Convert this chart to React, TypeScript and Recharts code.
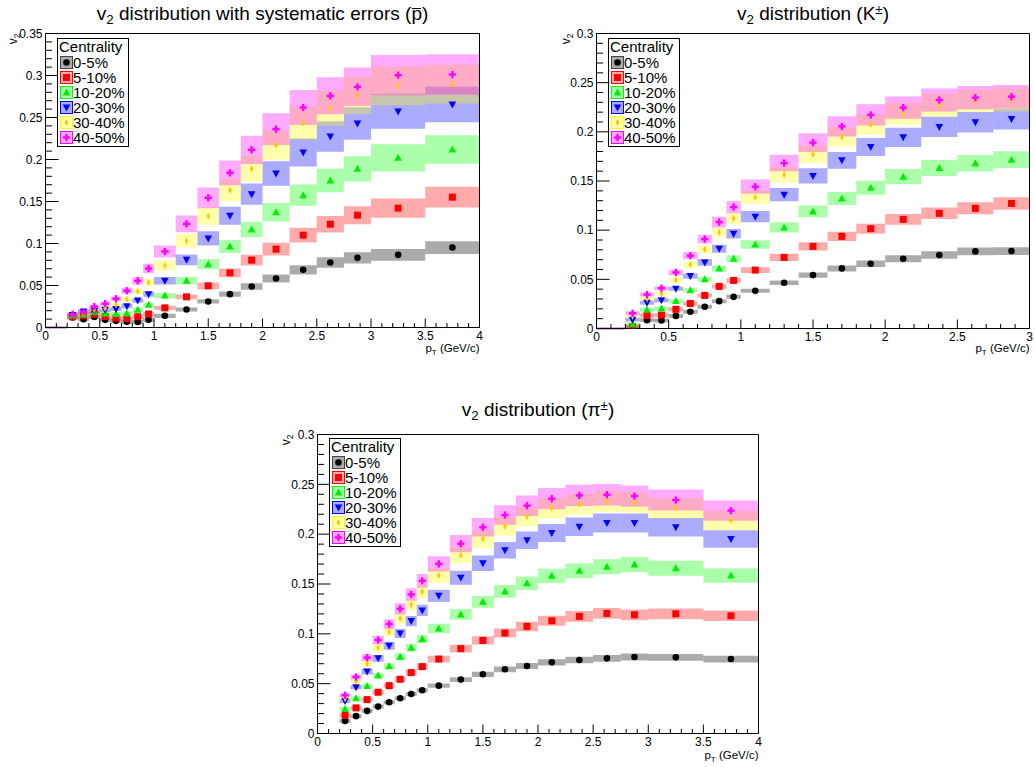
import React from 'react';
import { ComposedChart, Scatter, XAxis, YAxis, ReferenceArea, ReferenceLine, Legend } from 'recharts';

const FONT = '"Liberation Sans", Arial, Helvetica, sans-serif';

// pT bins (GeV/c)
const binLow = [0.2, 0.3, 0.4, 0.5, 0.6, 0.7, 0.8, 0.9, 1.0, 1.2, 1.4, 1.6, 1.8, 2.0, 2.25, 2.5, 2.75, 3.0, 3.5];
const binHigh = [0.3, 0.4, 0.5, 0.6, 0.7, 0.8, 0.9, 1.0, 1.2, 1.4, 1.6, 1.8, 2.0, 2.25, 2.5, 2.75, 3.0, 3.5, 4.0];
const binCenter = [0.25, 0.35, 0.45, 0.55, 0.65, 0.75, 0.85, 0.95, 1.1, 1.3, 1.5, 1.7, 1.9, 2.125, 2.375, 2.625, 2.875, 3.25, 3.75];

const centralities = ['0-5%', '5-10%', '10-20%', '20-30%', '30-40%', '40-50%'];
const markerColors = ['#000000', '#ff0000', '#00ee00', '#0000ff', '#ffc800', '#ff00ff'];
const boxColors = ['#000000', '#ff0000', '#00ff00', '#0000ff', '#ffff00', '#ff00ff'];
const markerKinds = ['circle', 'square', 'triUp', 'triDown', 'diamond', 'cross'];

// anti-proton v2
const pbar0_5 = [0.012, 0.0099, 0.0125, 0.0091, 0.0079, 0.0068, 0.0066, 0.0093, 0.0139, 0.0214, 0.031, 0.0397, 0.0488, 0.0583, 0.0687, 0.0774, 0.0829, 0.0865, 0.0952];
const pbar5_10 = [0.0127, 0.0139, 0.016, 0.0131, 0.0111, 0.0107, 0.0128, 0.016, 0.0234, 0.0365, 0.0496, 0.0651, 0.0802, 0.0933, 0.1099, 0.123, 0.1337, 0.1421, 0.1552];
const pbar10_20 = [0.0142, 0.0155, 0.0185, 0.0166, 0.016, 0.0168, 0.021, 0.027, 0.038, 0.0556, 0.0754, 0.0964, 0.1167, 0.1373, 0.1575, 0.175, 0.1889, 0.202, 0.2119];
const pbar20_30 = [0.015, 0.019, 0.02, 0.021, 0.022, 0.0254, 0.0321, 0.0397, 0.0556, 0.0806, 0.106, 0.133, 0.1587, 0.1833, 0.2083, 0.2274, 0.2429, 0.2571, 0.2655];
const pbar30_40 = [0.015, 0.017, 0.021, 0.023, 0.027, 0.0337, 0.0429, 0.0536, 0.0738, 0.1032, 0.1325, 0.1635, 0.1889, 0.2171, 0.2433, 0.2611, 0.2762, 0.2877, 0.2897];
const pbar40_50 = [0.0158, 0.0185, 0.0248, 0.0284, 0.0343, 0.0437, 0.0556, 0.0702, 0.0905, 0.1234, 0.1544, 0.1841, 0.2115, 0.2361, 0.2619, 0.2758, 0.2865, 0.3004, 0.3012];

// kaon v2
const k0_5 = [0.001, 0.0085, 0.0082, 0.0128, 0.017, 0.0221, 0.0278, 0.0322, 0.0383, 0.0465, 0.0543, 0.0611, 0.0658, 0.0709, 0.0747, 0.0784, 0.0787];
const k5_10 = [0.0017, 0.0132, 0.0136, 0.0195, 0.0254, 0.0336, 0.0428, 0.0489, 0.0594, 0.0723, 0.0835, 0.0937, 0.1015, 0.111, 0.1171, 0.1222, 0.1272];
const k10_20 = [0.0042, 0.0191, 0.0204, 0.028, 0.039, 0.0502, 0.0611, 0.0709, 0.0855, 0.1028, 0.1191, 0.1323, 0.1432, 0.1544, 0.1632, 0.168, 0.1717];
const k20_30 = [0.009, 0.0261, 0.0288, 0.0404, 0.0533, 0.0672, 0.0811, 0.0964, 0.1137, 0.1361, 0.1551, 0.171, 0.1846, 0.1944, 0.205, 0.2097, 0.2131];
const k30_40 = [0.0124, 0.0302, 0.0354, 0.0494, 0.0652, 0.0804, 0.0977, 0.112, 0.1334, 0.1564, 0.1771, 0.1948, 0.2073, 0.2185, 0.227, 0.2314, 0.2324];
const k40_50 = [0.0155, 0.0345, 0.041, 0.057, 0.074, 0.0909, 0.1082, 0.1235, 0.1442, 0.1683, 0.189, 0.2056, 0.2172, 0.2246, 0.2324, 0.2348, 0.2358];

// pion v2
const pi0_5 = [0.0125, 0.0174, 0.0227, 0.027, 0.0314, 0.0354, 0.0397, 0.0434, 0.048, 0.0541, 0.0594, 0.0644, 0.0677, 0.0714, 0.0737, 0.0754, 0.0767, 0.0764, 0.0747];
const pi5_10 = [0.0182, 0.0257, 0.034, 0.0414, 0.048, 0.0544, 0.0611, 0.0671, 0.0747, 0.0851, 0.0934, 0.1008, 0.1074, 0.1131, 0.1175, 0.1205, 0.1191, 0.1201, 0.1181];
const pi10_20 = [0.0245, 0.0354, 0.0477, 0.0581, 0.0674, 0.0771, 0.0861, 0.0948, 0.1054, 0.1195, 0.1321, 0.1425, 0.1508, 0.1582, 0.1632, 0.1672, 0.1695, 0.1658, 0.1585];
const pi20_30 = [0.0325, 0.0464, 0.0621, 0.0754, 0.0881, 0.1004, 0.1128, 0.1235, 0.1381, 0.1562, 0.1708, 0.1839, 0.1939, 0.2012, 0.2075, 0.2112, 0.2112, 0.2069, 0.1952];
const pi30_40 = [0.035, 0.0524, 0.0701, 0.0861, 0.1018, 0.1155, 0.1291, 0.1421, 0.1585, 0.1788, 0.1952, 0.2079, 0.2176, 0.2262, 0.2299, 0.2329, 0.2319, 0.2262, 0.2139];
const pi40_50 = [0.0384, 0.0567, 0.0761, 0.0938, 0.1098, 0.1251, 0.1395, 0.1532, 0.1702, 0.1905, 0.2069, 0.2192, 0.2286, 0.2356, 0.2389, 0.2396, 0.2382, 0.2342, 0.2236];

const makeTicks = (max: number, step: number) =>
  Array.from({ length: Math.round(max / step) + 1 }, (_, i) => +(i * step).toFixed(2));

const isMultiple = (v: number, step: number) => Math.abs(v / step - Math.round(v / step)) < 1e-6;
const fmt = (v: number) => String(+v.toFixed(2));

function Marker({ kind, cx, cy, color }: { kind: string; cx: number; cy: number; color: string }) {
  switch (kind) {
    case 'circle':
      return <circle cx={cx} cy={cy} r={3.3} fill={color} />;
    case 'square':
      return <rect x={cx - 3.5} y={cy - 3.5} width={7} height={7} fill={color} />;
    case 'triUp':
      return <polygon points={`${cx},${cy - 4} ${cx - 3.8},${cy + 3} ${cx + 3.8},${cy + 3}`} fill={color} />;
    case 'triDown':
      return <polygon points={`${cx},${cy + 4} ${cx - 3.8},${cy - 3} ${cx + 3.8},${cy - 3}`} fill={color} />;
    case 'diamond':
      return <polygon points={`${cx},${cy - 3.6} ${cx + 1.8},${cy} ${cx},${cy + 3.6} ${cx - 1.8},${cy}`} fill={color} />;
    default:
      return (
        <g fill={color}>
          <rect x={cx - 3.6} y={cy - 1.2} width={7.2} height={2.4} />
          <rect x={cx - 1.2} y={cy - 3.6} width={2.4} height={7.2} />
        </g>
      );
  }
}

const renderXTick = (props: any) => {
  const { x, y, payload } = props;
  const major = isMultiple(payload.value, 0.5);
  return (
    <g>
      <line x1={x} y1={y} x2={x} y2={y - (major ? 9 : 4.5)} stroke="#000" />
      {major && (
        <text x={x} y={y + 12.5} textAnchor="middle" fontSize={12} fontFamily={FONT} fill="#000">
          {fmt(payload.value)}
        </text>
      )}
    </g>
  );
};

const renderYTick = (props: any) => {
  const { x, y, payload } = props;
  const major = isMultiple(payload.value, 0.05);
  return (
    <g>
      <line x1={x} y1={y} x2={x + (major ? 13 : 6.5)} y2={y} stroke="#000" />
      {major && (
        <text x={x - 3} y={y + 4.3} textAnchor="end" fontSize={12} fontFamily={FONT} fill="#000">
          {fmt(payload.value)}
        </text>
      )}
    </g>
  );
};

const CentralityLegend = () => (
  <div
    style={{
      width: 69,
      border: '1px solid #000',
      background: '#fff',
      fontFamily: FONT,
      fontSize: 15,
      color: '#000',
      padding: '0 0 1px 1px',
      whiteSpace: 'nowrap',
    }}
  >
    <div style={{ height: 16, lineHeight: '16px' }}>Centrality</div>
    {centralities.map((c, i) => (
      <div key={c} style={{ display: 'flex', alignItems: 'center', height: 15, lineHeight: '15px' }}>
        <svg width={13} height={13} style={{ marginRight: 0, marginLeft: 1, flex: 'none' }}>
          <rect x={0.5} y={0.5} width={12} height={12} fill="#fff" stroke="none" />
          <rect x={0.5} y={0.5} width={12} height={12} fill={boxColors[i]} fillOpacity={0.33} stroke={i === 0 ? '#444' : boxColors[i]} />
          <Marker kind={markerKinds[i]} cx={6.5} cy={6.5} color={markerColors[i]} />
        </svg>
        <span>{c}</span>
      </div>
    ))}
  </div>
);

type PanelProps = {
  left: number;
  top: number;
  width: number;
  height: number;
  frame: { left: number; right: number; top: number; bottom: number };
  xMax: number;
  yMax: number;
  series: number[][];
  sysRel: number;
  sysFloor: number;
  legendLeft: number;
  legendTop: number;
  stub: boolean;
};

function Panel(p: PanelProps) {
  const xTicks = makeTicks(p.xMax, 0.1);
  const yTicks = makeTicks(p.yMax, 0.01);
  // axes get 1px of room, so the plot area lands on the frame
  const margin = {
    top: p.frame.top,
    left: p.frame.left - 1,
    right: p.width - p.frame.right,
    bottom: p.height - p.frame.bottom - 1,
  };
  return (
    <div style={{ position: 'absolute', left: p.left, top: p.top }}>
      <ComposedChart width={p.width} height={p.height} margin={margin}>
        <XAxis
          type="number"
          dataKey="x"
          domain={[0, p.xMax]}
          ticks={xTicks}
          interval={0}
          height={1}
          tickSize={0}
          tickMargin={0}
          tickLine={false}
          tick={renderXTick}
          axisLine={{ stroke: '#000' }}
          allowDataOverflow
        />
        <YAxis
          type="number"
          dataKey="y"
          domain={[0, p.yMax]}
          ticks={yTicks}
          interval={0}
          width={1}
          tickSize={0}
          tickMargin={0}
          tickLine={false}
          tick={renderYTick}
          axisLine={{ stroke: '#000' }}
          allowDataOverflow
        />
        {p.series.map((vals, s) =>
          vals.map((v, i) => {
            const e = Math.max(v * p.sysRel, p.sysFloor);
            return (
              <ReferenceArea
                key={`box-${s}-${i}`}
                x1={binLow[i]}
                x2={binHigh[i]}
                y1={Math.max(0, v - e)}
                y2={v + e}
                fill={boxColors[s]}
                fillOpacity={0.33}
                stroke="none"
                ifOverflow="hidden"
              />
            );
          })
        )}
        {p.stub && (
          <ReferenceLine
            segment={[{ x: 0, y: 0 }, { x: 0.2, y: 0 }]}
            stroke="#b060b0"
            strokeWidth={2}
            ifOverflow="visible"
          />
        )}
        <ReferenceLine x={p.xMax} stroke="#000" ifOverflow="visible" />
        <ReferenceLine y={p.yMax} stroke="#000" ifOverflow="visible" />
        {p.series.map((vals, s) => (
          <Scatter
            key={`pts-${s}`}
            name={centralities[s]}
            data={vals.map((v, i) => ({ x: binCenter[i], y: v }))}
            isAnimationActive={false}
            shape={(sp: any) => <Marker kind={markerKinds[s]} cx={sp.cx} cy={sp.cy} color={markerColors[s]} />}
          />
        ))}
        <Legend
          layout="vertical"
          align="center"
          verticalAlign="middle"
          content={() => <CentralityLegend />}
          wrapperStyle={{ left: p.legendLeft, top: p.legendTop, width: 71, height: 'auto' }}
        />
      </ComposedChart>
    </div>
  );
}

const sub: React.CSSProperties = { fontSize: '0.7em', position: 'relative', top: '0.27em' };
const sup: React.CSSProperties = { fontSize: '0.7em', position: 'relative', top: '-0.45em' };

const titleStyle = (centerX: number, top: number): React.CSSProperties => ({
  position: 'absolute',
  left: centerX - 250,
  top,
  width: 500,
  textAlign: 'center',
  fontFamily: FONT,
  fontSize: 19,
  lineHeight: '19px',
  color: '#000',
  whiteSpace: 'nowrap',
});

const PBar = () => (
  <span style={{ position: 'relative' }}>
    p
    <span style={{ position: 'absolute', left: 1, right: 1, top: 4.5, borderTop: '1.5px solid #000' }} />
  </span>
);

const AxisTitles = ({ frameRight, xBase, yX, yTop }: { frameRight: number; xBase: number; yX: number; yTop: number }) => (
  <>
    <text x={frameRight} y={xBase} textAnchor="end" fontSize={11.5} fontFamily={FONT} fill="#000">
      p<tspan dy={3} fontSize={8}>T</tspan>
      <tspan dy={-3}> (GeV/c)</tspan>
    </text>
    <text transform={`translate(${yX},${yTop}) rotate(-90)`} textAnchor="end" fontSize={12} fontFamily={FONT} fill="#000">
      v<tspan dy={3} fontSize={8.5}>2</tspan>
    </text>
  </>
);

export default function App() {
  return (
    <div style={{ position: 'absolute', left: 0, top: 0, width: 1035, height: 767, background: '#fff', overflow: 'hidden' }}>
      <Panel
        left={0}
        top={0}
        width={500}
        height={360}
        frame={{ left: 45.5, right: 479.5, top: 33.5, bottom: 327.5 }}
        xMax={4}
        yMax={0.35}
        series={[pbar0_5, pbar5_10, pbar10_20, pbar20_30, pbar30_40, pbar40_50]}
        sysRel={0.08}
        sysFloor={0.0025}
        legendLeft={57}
        legendTop={38}
        stub
      />
      <Panel
        left={520}
        top={0}
        width={515}
        height={360}
        frame={{ left: 76.5, right: 509.5, top: 33.5, bottom: 328.5 }}
        xMax={3}
        yMax={0.3}
        series={[k0_5, k5_10, k10_20, k20_30, k30_40, k40_50]}
        sysRel={0.05}
        sysFloor={0.002}
        legendLeft={88}
        legendTop={38}
        stub
      />
      <Panel
        left={270}
        top={390}
        width={500}
        height={377}
        frame={{ left: 47.5, right: 488.5, top: 44.5, bottom: 343.5 }}
        xMax={4}
        yMax={0.3}
        series={[pi0_5, pi5_10, pi10_20, pi20_30, pi30_40, pi40_50]}
        sysRel={0.045}
        sysFloor={0.002}
        legendLeft={59}
        legendTop={48}
        stub={false}
      />

      <div style={titleStyle(262.5, 4)}>
        v<span style={sub}>2</span> distribution with systematic errors (<PBar />)
      </div>
      <div style={titleStyle(813, 4)}>
        v<span style={sub}>2</span> distribution (K<span style={sup}>±</span>)
      </div>
      <div style={titleStyle(538, 400)}>
        v<span style={sub}>2</span> distribution (π<span style={sup}>±</span>)
      </div>

      <svg width={1035} height={767} style={{ position: 'absolute', left: 0, top: 0, pointerEvents: 'none' }}>
        <AxisTitles frameRight={479.5} xBase={352} yX={16.5} yTop={33.5} />
        <AxisTitles frameRight={1029.5} xBase={352} yX={570} yTop={33.5} />
        <AxisTitles frameRight={758.5} xBase={759} yX={290} yTop={434.5} />
      </svg>
    </div>
  );
}
